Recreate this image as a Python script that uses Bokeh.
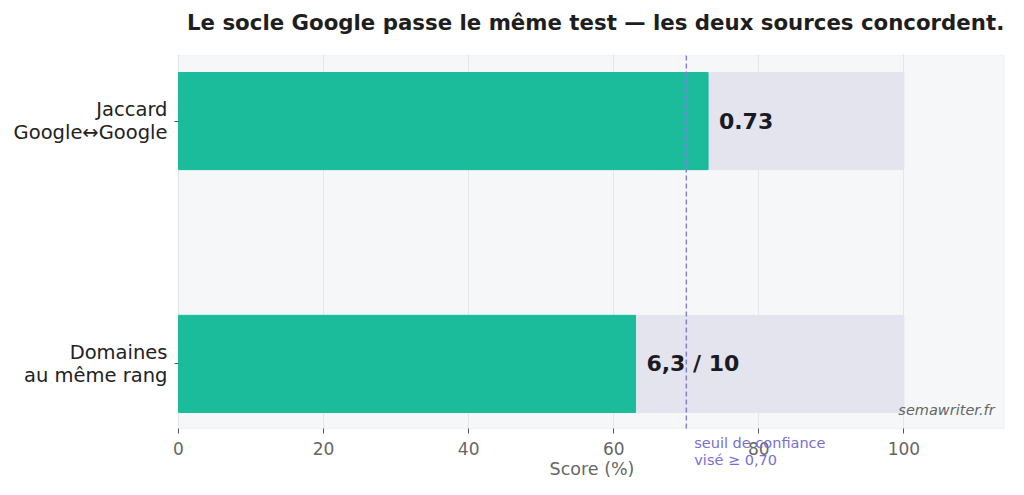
from bokeh.plotting import figure
from bokeh.models import Range1d, FixedTicker, Label, BoxAnnotation
from bokeh.embed import file_html
from bokeh.resources import INLINE

# data
categories = ["Jaccard\nGoogle\u2194Google", "Domaines\nau m\u00eame rang"]
scores = [73, 63]
full_scale = [100, 100]
value_labels = ["0.73", "6,3 / 10"]
threshold = 70
threshold_text = "seuil de confiance\nvis\u00e9 \u2265 0,70"
x_ticks = [0, 20, 40, 60, 80, 100]
title = "Le socle Google passe le m\u00eame test \u2014 les deux sources concordent."

FONT = "DejaVu Sans"
ypos = list(range(len(categories)))[::-1]

# the frame covers the whole canvas so that the title, the tick labels and the
# caption under the axis are not clipped; the plot area itself is the box
# X_MIN..X_MAX x PLOT_BOTTOM..PLOT_TOP
PLOT_BOTTOM, PLOT_TOP = -0.266, 1.27
FRAME_BOTTOM, FRAME_TOP = -0.476, 1.4965
X_MIN, X_MAX = 0, 113.8
FRAME_LEFT, FRAME_RIGHT = -24.535, 114

p = figure(width=1008, height=479, output_backend="svg", toolbar_location=None,
           x_range=Range1d(FRAME_LEFT, FRAME_RIGHT), y_range=Range1d(FRAME_BOTTOM, FRAME_TOP),
           min_border_left=0, min_border_right=3, min_border_top=0,
           min_border_bottom=0)

p.background_fill_color = "white"
p.border_fill_color = "white"
p.outline_line_color = None

# plot area
p.add_layout(BoxAnnotation(left=X_MIN, right=X_MAX, bottom=PLOT_BOTTOM, top=PLOT_TOP,
                           fill_color="#f5f7f9", fill_alpha=1, line_color="#dde1e6",
                           line_width=1.5, level="image"))
p.xgrid.grid_line_color = "#e3e6ea"
p.ygrid.grid_line_color = None
p.add_layout(BoxAnnotation(top=PLOT_BOTTOM - 0.004, fill_color="white", fill_alpha=1,
                           line_color=None, level="underlay"))
p.add_layout(BoxAnnotation(bottom=PLOT_TOP + 0.004, fill_color="white", fill_alpha=1,
                           line_color=None, level="underlay"))

# background (100%) bars then the scores
p.hbar(y=ypos, left=0, right=full_scale, height=0.4, color="#e3e4ee")
p.hbar(y=ypos, left=0, right=scores, height=0.4, color="#1abc9c")

for yy, s, t in zip(ypos, scores, value_labels):
    p.add_layout(Label(x=s + 1.5, y=yy, text=t, text_font=FONT, text_font_size="22px",
                       text_font_style="bold", text_color="#1a1a24",
                       text_baseline="middle", text_align="left"))

# seuil
p.segment(x0=threshold, y0=PLOT_BOTTOM, x1=threshold, y1=PLOT_TOP,
          line_color="#8482df", line_dash="5 3", line_width=1.5)
p.add_layout(Label(x=threshold + 1.1, y=PLOT_BOTTOM - 0.026, text=threshold_text,
                   text_font=FONT, text_font_size="14.5px", text_color="#7a6fd1",
                   text_line_height=1.1, text_baseline="top", text_align="left"))

p.add_layout(Label(x=112.5, y=-0.19, text="semawriter.fr", text_font=FONT,
                   text_font_size="14.5px", text_font_style="italic",
                   text_color="#666666", text_baseline="middle", text_align="right"))

# title
p.add_layout(Label(x=57.5, y=PLOT_TOP + 0.136, text=title, text_font=FONT,
                   text_font_size="21.3px", text_font_style="bold",
                   text_color="#1e1e1e", text_align="center", text_baseline="middle"))

# axes
p.xaxis.fixed_location = PLOT_BOTTOM
p.xaxis.bounds = (X_MIN, 115)
p.xaxis.ticker = FixedTicker(ticks=x_ticks)
p.xaxis.axis_label = "Score (%)"
p.xaxis.axis_label_text_font = FONT
p.xaxis.axis_label_text_font_size = "17.5px"
p.xaxis.axis_label_text_font_style = "normal"
p.xaxis.axis_label_text_color = "#666666"
p.xaxis.axis_label_standoff = 1
p.xaxis.major_label_text_font = FONT
p.xaxis.major_label_text_font_size = "17px"
p.xaxis.major_label_text_color = "#666666"
p.xaxis.major_tick_out = 5
p.xaxis.major_tick_in = 0
p.xaxis.minor_tick_line_color = None
p.xaxis.major_tick_line_color = "#555555"
p.xaxis.axis_line_color = None
p.xaxis.major_label_standoff = 8

p.yaxis.fixed_location = X_MIN
p.yaxis.ticker = FixedTicker(ticks=ypos)
p.yaxis.major_label_overrides = {y: c for y, c in zip(ypos, categories)}
p.yaxis.major_label_text_font = FONT
p.yaxis.major_label_text_font_size = "19.5px"
p.yaxis.major_label_text_color = "#222222"
p.yaxis.major_label_text_line_height = 1.0
p.yaxis.major_tick_out = 4
p.yaxis.major_tick_in = 0
p.yaxis.minor_tick_line_color = None
p.yaxis.major_tick_line_color = "#555555"
p.yaxis.axis_line_color = None
p.yaxis.major_label_standoff = 7

open("out.html", "w").write(file_html(p, INLINE))
